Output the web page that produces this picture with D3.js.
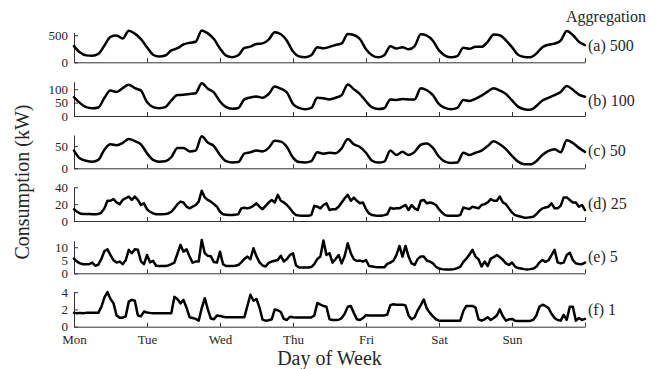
<!DOCTYPE html>
<html><head><meta charset="utf-8">
<script src="https://cdn.jsdelivr.net/npm/d3@7"></script>
<style>
html,body{margin:0;padding:0;background:#fff;}
svg{display:block;}
svg text{fill:#262626;}
</style></head>
<body>
<svg id="chart" width="657" height="369"></svg>
<script>
// ---- data ----
const dayLabels = ["Mon","Tue","Wed","Thu","Fri","Sat","Sun",""];
const panelLabels = ["(a) 500","(b) 100","(c) 50","(d) 25","(e) 5","(f) 1"];
const yTicksA = [0,500], yTicksB = [0,50,100], yTicksC = [0,50], yTicksD = [0,20,40], yTicksE = [0,5,10], yTicksF = [0,2,4];
const stepA = 2, stepB = 2, stepC = 2, stepD = 1, stepE = 1, stepF = 1; // hours between samples

const aggA = [300,180,128,122,155,310,470,495,440,585,530,430,280,140,105,125,220,260,330,360,380,590,535,430,
256,125,95,130,265,290,340,350,420,555,520,400,200,110,95,130,280,258,285,320,348,525,505,430,
240,130,92,130,295,255,280,240,300,520,495,400,220,125,92,115,268,250,287,287,380,515,500,405,
280,140,100,95,160,280,325,345,400,580,505,380,317];
const aggB = [70,48,33,29,32,68,95,90,104,117,104,95,52,33,29,33,58,78,79,82,85,122,102,88,
54,33,27,30,62,69,73,68,82,110,102,88,45,30,25,30,68,66,62,68,78,118,100,82,
55,32,26,29,62,60,63,62,62,104,96,78,44,30,25,30,60,56,64,76,91,104,95,82,
58,35,25,23,37,58,68,78,90,112,98,80,72];
const aggC = [40,22,17,15,19,42,54,52,57,66,61,54,34,19,15,16,25,46,46,38,40,72,58,50,
30,16,13,14,33,36,40,38,46,62,60,48,24,14,13,16,36,33,35,34,45,66,54,48,
35,17,13,15,40,30,37,30,37,53,56,46,26,15,12,13,35,30,35,40,50,61,54,43,
28,15,9,9,16,30,39,43,36,63,57,46,37];
const aggD = [14,11,9,8.3,8.3,8.3,8,8,8.3,10,15,24,24,26,22,20,25,27,29,25,29,25,19,21,
14,11,9,8,8,8,8.3,9,11,15,20,23,22,17,15,17,19,23,36,28,25,23,20,17,
11,8,7.5,7,7,7.5,8,15,15.8,15,16,18,21,17,14,18,22,25,22,31,24,22,19,15,
10,7,6.5,6.3,6.3,6.3,7,18,17,15,19,21,13,14,13.9,17,22,27,31,24,27.7,24,21,22,
14,9,7,6.5,6.3,6.3,7,8,15.8,14.5,15,15,17,19,13,19,15,13,24,25,21,22,21,19,
14,10,7,6.3,6.3,6.3,6.3,7,16,15,14.3,17,16,15,19,20,22,26,24,24,29,22,20,15,
10,7,6,5,4,4,4.5,5.1,8,12,15,16,17,21,15,15,18,28,28,25,22,22,17,19,13];
const aggE = [5.6,4.5,3.8,3.5,3.5,3.5,4.1,2.9,3.3,5.5,8.5,9.2,7,5,4.1,4.5,3.5,5,9,7.7,9.2,9,4.6,3.5,
7,4.2,4.8,2.9,2.8,2.8,2.8,3,3.5,4.1,7.5,10.9,8.3,9.2,6.4,4.1,4.5,4.5,12.8,7.7,6.7,6.5,4.3,4.1,
8.3,3.5,2.8,2.8,2.8,2.9,3.2,4.2,5.5,6.4,5.4,9.6,6.5,4.2,3,2.6,4,4.5,4.8,5.1,6.7,4.5,5.5,7,
7.7,3,2.2,2.2,2.2,2.2,2.4,3.5,5.5,6.4,12.6,7,7.7,4.1,5.5,7,3.8,6.7,11.5,7.7,5.4,4.7,4.9,4.5,
5.1,2.8,2.6,2.4,2.3,2.3,2.3,3.6,4.1,4.8,7,10.5,6.4,10.5,6.4,3.8,3.2,5.5,6.4,6.4,4.9,4.5,3.8,2.5,
1.8,1.6,1.5,1.5,1.5,1.6,2,2.5,4.4,5.6,7.2,9,6.4,5.4,2.6,4.5,2.8,5.6,6.2,7,6.2,5.2,3.8,3.2,
4.1,2.6,2,1.8,1.6,1.5,1.6,1.8,2.5,4.1,5.1,4.4,5,7,9,4.2,3.8,4.1,7,7.9,5.1,3.8,3.6,3.5,4.1];
const aggF = [1.6,1.55,1.6,1.55,1.6,1.6,1.6,1.6,1.6,2.3,3.4,4.0,3.2,2.7,1.3,1.05,1.05,1.2,2.9,3.1,3.0,1.3,1.2,1.75,
1.65,1.6,1.57,1.57,1.57,1.57,1.57,1.57,1.57,3.45,3.2,2.7,3.1,2.2,1.1,1.0,0.9,0.7,2.15,3.3,2.0,0.95,0.86,1.3,
1.25,1.15,1.1,1.1,1.1,1.1,1.1,1.1,1.1,2.4,3.7,3.0,3.2,2.2,0.8,0.7,0.75,0.86,2.0,1.9,1.7,0.9,0.78,1.15,
1.1,1.06,1.06,1.06,1.06,1.06,1.06,1.3,2.75,2.55,2.4,2.3,0.86,0.78,0.78,0.8,1.0,1.5,2.3,2.4,1.6,0.86,0.78,1.0,
1.35,1.3,1.3,1.3,1.3,1.3,1.3,1.4,2.5,2.6,2.55,2.55,2.55,2.45,1.3,0.86,1.1,1.9,2.5,3.15,2.1,1.6,1.2,0.86,
0.7,0.7,0.7,0.7,0.7,0.7,0.7,0.7,1.8,2.4,2.4,2.4,2.2,0.86,0.7,0.85,1.1,0.78,1.0,1.3,2.0,1.2,0.7,0.85,
0.9,0.7,0.67,0.67,0.67,0.67,0.67,0.8,1.3,2.3,2.55,2.4,2.15,1.5,1.0,0.78,0.7,1.37,0.8,2.3,2.3,0.7,1.0,0.78,0.9];

// ---- layout ----
const FONT = "Liberation Serif, Tinos, Noto Serif, DejaVu Serif, Nimbus Roman, FreeSerif, Times New Roman, Times, serif";
const xLeft = 74, xRight = 585;
const panels = [
  {vals: aggA, step: stepA, ticks: yTicksA, label: panelLabels[0], yMax: 555,  zero: 62.3,  top: 32.3,  labY: 45,    curve: d3.curveMonotoneX},
  {vals: aggB, step: stepB, ticks: yTicksB, label: panelLabels[1], yMax: 128,  zero: 116,   top: 81.7,  labY: 100,   curve: d3.curveMonotoneX},
  {vals: aggC, step: stepC, ticks: yTicksC, label: panelLabels[2], yMax: 75,   zero: 168.3, top: 135,   labY: 150,   curve: d3.curveMonotoneX},
  {vals: aggD, step: stepD, ticks: yTicksD, label: panelLabels[3], yMax: 40,   zero: 221,   top: 187.3, labY: 203.3, curve: d3.curveLinear},
  {vals: aggE, step: stepE, ticks: yTicksE, label: panelLabels[4], yMax: 12.5, zero: 273.3, top: 240.7, labY: 256.7, curve: d3.curveLinear},
  {vals: aggF, step: stepF, ticks: yTicksF, label: panelLabels[5], yMax: 4.05, zero: 326.7, top: 291.7, labY: 309.3, curve: d3.curveLinear}
];

const svg = d3.select("#chart");
const x = d3.scaleLinear().domain([0, 168]).range([xLeft, xRight]);
const dayTicks = d3.range(0, 169, 24);

function styleText(sel, size) {
  sel.style("font-family", FONT).style("font-size", size + "px").attr("fill", "#262626");
}

panels.forEach((p, i) => {
  const y = d3.scaleLinear().domain([0, p.yMax]).range([p.zero, p.top]);
  const g = svg.append("g");
  const xa = d3.axisBottom(x).tickValues(dayTicks).tickSizeInner(-4).tickSizeOuter(0).tickPadding(8)
    .tickFormat((d, k) => i === panels.length - 1 ? dayLabels[k] : "");
  const gx = g.append("g").attr("transform", `translate(0,${p.zero})`).call(xa);
  const ya = d3.axisLeft(y).tickValues(p.ticks).tickSizeInner(-4).tickSizeOuter(0).tickPadding(6)
    .tickFormat(d3.format("d"));
  const gy = g.append("g").attr("transform", `translate(${xLeft},0)`).call(ya);
  [gx, gy].forEach(a => { a.attr("font-family", null).attr("font-size", null); styleText(a.selectAll("text"), 13); });
  g.selectAll(".domain, .tick line").attr("stroke", "#333").attr("stroke-width", 1);
  const line = d3.line().x((d, k) => x(k * p.step)).y(d => y(d)).curve(p.curve);
  g.append("path").datum(p.vals).attr("d", line)
    .attr("fill", "none").attr("stroke", "#000").attr("stroke-width", 2.5)
    .attr("stroke-linejoin", "round").attr("stroke-linecap", "round");
  styleText(g.append("text").attr("x", 588).attr("y", p.labY).attr("dy", "0.35em").text(p.label), 16);
});

styleText(svg.append("text").attr("x", 606).attr("y", 16.7).attr("dy", "0.35em").attr("text-anchor", "middle")
  .text("Aggregation"), 16);
styleText(svg.append("text").attr("x", (xLeft + xRight) / 2).attr("y", 365).attr("text-anchor", "middle")
  .text("Day of Week"), 20);
styleText(svg.append("text").attr("transform", "translate(29,182) rotate(-90)").attr("text-anchor", "middle")
  .text("Consumption (kW)"), 20);
</script>
</body></html>
